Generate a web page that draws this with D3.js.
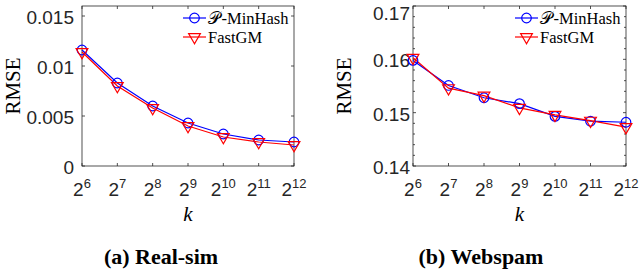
<!DOCTYPE html>
<html>
<head>
<meta charset="utf-8">
<script src="https://cdn.jsdelivr.net/npm/d3@7"></script>
<style>
  html, body { margin: 0; padding: 0; background: #fff; }
  svg { display: block; }
</style>
</head>
<body>
<svg id="chart" width="640" height="269"></svg>
<script>
// ---- data ----
const kValues = [64, 128, 256, 512, 1024, 2048, 4096];
const kExponents = [6, 7, 8, 9, 10, 11, 12];
const seriesNames = ["P-MinHash", "FastGM"];

const realSimPMinHash = [0.0116, 0.0083, 0.0060, 0.0043, 0.0032, 0.0026, 0.0024];
const realSimFastGM   = [0.0114, 0.0080, 0.0058, 0.0040, 0.0029, 0.0024, 0.0021];
const realSimYTicks = [0, 0.005, 0.01, 0.015];
const realSimYLabels = ["0", "0.005", "0.01", "0.015"];

const webspamPMinHash = [0.1598, 0.1551, 0.1528, 0.1517, 0.1493, 0.1484, 0.1482];
const webspamFastGM   = [0.1603, 0.1546, 0.1532, 0.1509, 0.1496, 0.1485, 0.1473];
const webspamYTicks = [0.14, 0.15, 0.16, 0.17];
const webspamYLabels = ["0.14", "0.15", "0.16", "0.17"];
const webspamYMinor = [0.142,0.144,0.146,0.148,0.152,0.154,0.156,0.158,0.162,0.164,0.166,0.168];

const captions = ["(a) Real-sim", "(b) Webspam"];

const BLUE = "#0000ff", RED = "#ff0000", AXIS = "#262626";
const svg = d3.select("#chart");

function panel(opt) {
  const g = svg.append("g");
  const x = d3.scaleLog().base(2).domain([64, 4096]).range([opt.x0, opt.x1]);
  const y = d3.scaleLinear().domain(opt.yDomain).range([166, 6]);
  const yT = 6, yB = 166;

  g.append("rect").attr("x", opt.x0).attr("y", yT).attr("width", opt.x1 - opt.x0).attr("height", yB - yT)
    .attr("fill", "none").attr("stroke", AXIS).attr("stroke-width", 0.8);

  kValues.forEach((k, i) => {
    const px = x(k);
    g.append("line").attr("x1", px).attr("x2", px).attr("y1", yB).attr("y2", yB - 3).attr("stroke", AXIS).attr("stroke-width", 0.8);
    g.append("line").attr("x1", px).attr("x2", px).attr("y1", yT).attr("y2", yT + 3).attr("stroke", AXIS).attr("stroke-width", 0.8);
    const t = g.append("text").attr("x", px).attr("y", 196).attr("text-anchor", "middle")
      .attr("font-family", "Liberation Sans, Arial, sans-serif").attr("font-size", 19).attr("fill", "#262626");
    t.append("tspan").text("2");
    t.append("tspan").attr("dy", -8).attr("font-size", 13).text(kExponents[i]);
  });

  opt.yTicks.forEach((v, i) => {
    const py = y(v);
    g.append("line").attr("x1", opt.x0).attr("x2", opt.x0 + 3).attr("y1", py).attr("y2", py).attr("stroke", AXIS).attr("stroke-width", 0.8);
    g.append("line").attr("x1", opt.x1).attr("x2", opt.x1 - 3).attr("y1", py).attr("y2", py).attr("stroke", AXIS).attr("stroke-width", 0.8);
    const ly = Math.max(py + 1, 13);
    g.append("text").attr("x", opt.x0 - opt.labelGap).attr("y", ly).attr("dy", "0.36em").attr("text-anchor", "end")
      .attr("font-family", "Liberation Sans, Arial, sans-serif").attr("font-size", 19).attr("fill", "#262626")
      .text(opt.yLabels[i]);
  });
  (opt.yMinor || []).forEach(v => {
    const py = y(v);
    g.append("line").attr("x1", opt.x0).attr("x2", opt.x0 + 2).attr("y1", py).attr("y2", py).attr("stroke", AXIS).attr("stroke-width", 0.8);
    g.append("line").attr("x1", opt.x1).attr("x2", opt.x1 - 2).attr("y1", py).attr("y2", py).attr("stroke", AXIS).attr("stroke-width", 0.8);
  });

  const line = d3.line().x((d, i) => x(kValues[i])).y(d => y(d));
  g.append("path").datum(opt.s1).attr("d", line).attr("fill", "none").attr("stroke", BLUE).attr("stroke-width", 1.2);
  g.append("path").datum(opt.s2).attr("d", line).attr("fill", "none").attr("stroke", RED).attr("stroke-width", 1.2);

  const tri = d3.symbol().type(d3.symbolTriangle).size(60);
  opt.s1.forEach((v, i) => {
    g.append("circle").attr("cx", x(kValues[i])).attr("cy", y(v)).attr("r", 4.8)
      .attr("fill", "none").attr("stroke", BLUE).attr("stroke-width", 1.2);
  });
  opt.s2.forEach((v, i) => {
    g.append("path").attr("d", tri).attr("transform", `translate(${x(kValues[i])},${y(v)}) rotate(180)`)
      .attr("fill", "none").attr("stroke", RED).attr("stroke-width", 1.2);
  });

  const lx = opt.x1 - 111;
  [[BLUE, "circle", 18], [RED, "tri", 37]].forEach(([c, m, ly], i) => {
    g.append("line").attr("x1", lx).attr("x2", lx + 23).attr("y1", ly).attr("y2", ly).attr("stroke", c).attr("stroke-width", 1.2);
    if (m === "circle") {
      g.append("circle").attr("cx", lx + 11.5).attr("cy", ly).attr("r", 4.8).attr("fill", "none").attr("stroke", c).attr("stroke-width", 1.2);
    } else {
      g.append("path").attr("d", tri).attr("transform", `translate(${lx + 11.5},${ly}) rotate(180)`)
        .attr("fill", "none").attr("stroke", c).attr("stroke-width", 1.2);
    }
    const t = g.append("text").attr("x", lx + 25).attr("y", ly + 5.5)
      .attr("font-family", "Liberation Serif, Times New Roman, serif").attr("font-size", 16.5).attr("fill", "#000");
    if (i === 0) {
      t.append("tspan").text("𝒫");
      t.append("tspan").attr("dx", 1.5).text("-MinHash");
    } else {
      t.text(seriesNames[1]);
    }
  });

  const cx = (opt.x0 + opt.x1) / 2;
  g.append("text").attr("x", cx).attr("y", 221).attr("text-anchor", "middle")
    .attr("font-family", "Liberation Serif, Times New Roman, serif").attr("font-style", "italic")
    .attr("font-size", 21).text("k");
  g.append("text").attr("transform", `translate(${opt.ylabX},86) rotate(-90)`).attr("text-anchor", "middle")
    .attr("font-family", "Liberation Serif, Times New Roman, serif").attr("font-size", 21).text("RMSE");

  g.append("text").attr("x", opt.capX).attr("y", 264).attr("text-anchor", "middle")
    .attr("font-family", "Liberation Serif, Times New Roman, serif").attr("font-weight", "bold")
    .attr("font-size", 22).text(opt.caption);
}

panel({ x0: 82, x1: 294, yDomain: [0, 0.016], yTicks: realSimYTicks, yLabels: realSimYLabels,
  s1: realSimPMinHash, s2: realSimFastGM, labelGap: 8, ylabX: 20, capX: 161, caption: captions[0] });
panel({ x0: 413, x1: 626, yDomain: [0.14, 0.17], yTicks: webspamYTicks, yLabels: webspamYLabels,
  yMinor: webspamYMinor, s1: webspamPMinHash, s2: webspamFastGM, labelGap: 3, ylabX: 351, capX: 481, caption: captions[1] });
</script>
</body>
</html>
